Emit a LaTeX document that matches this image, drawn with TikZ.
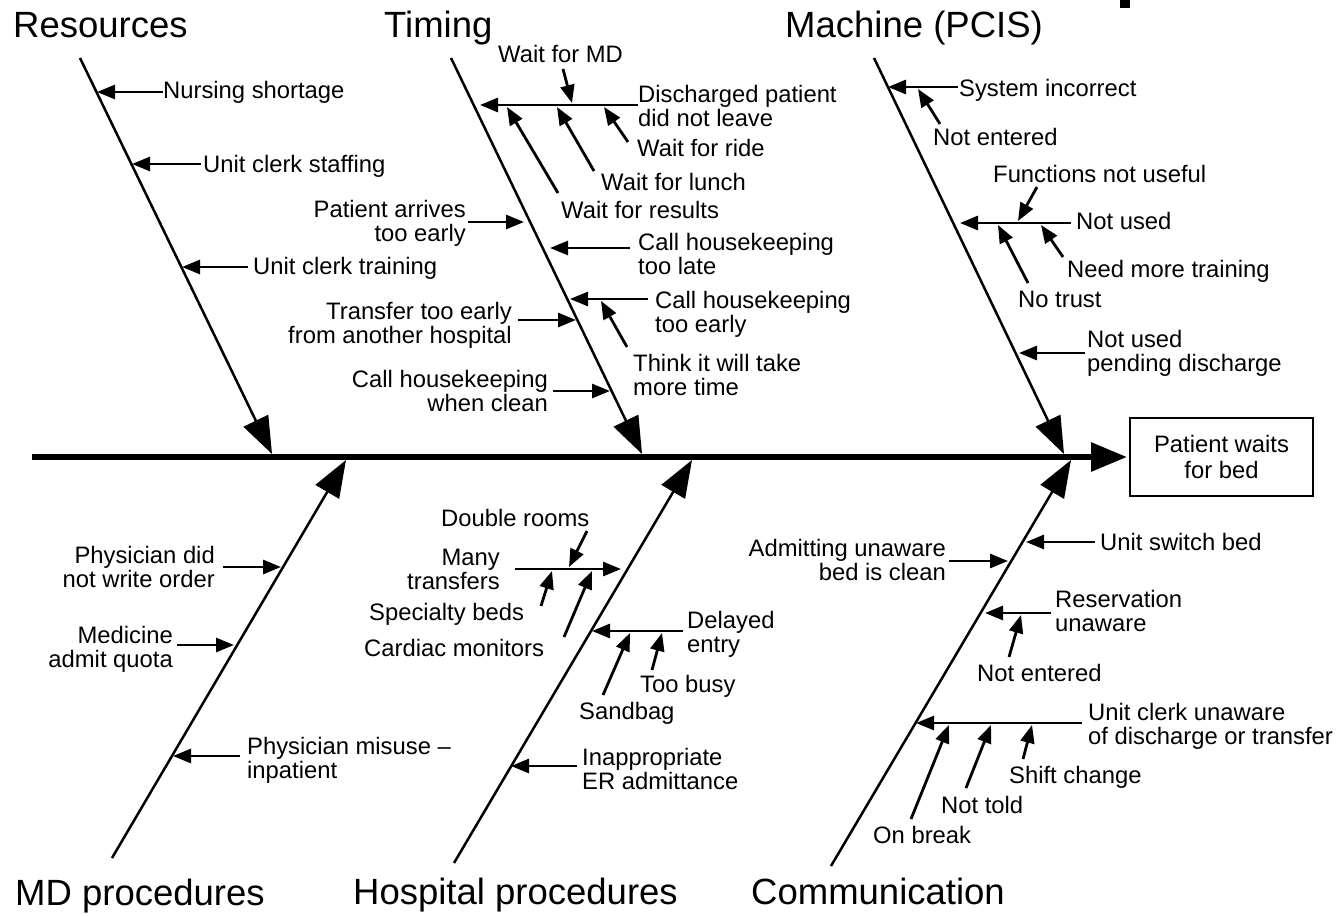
\documentclass[tikz,border=0pt]{standalone}
\usepackage{fontspec}
\setmainfont{Liberation Sans}
\usetikzlibrary{arrows.meta}
\begin{document}
\begin{tikzpicture}[x=1pt,y=-1pt,
  lbl/.style={inner sep=0pt, font=\fontsize{23.8}{24}\selectfont},
  lblL/.style={lbl, align=left, anchor=base west},
  lblR/.style={lbl, align=right, anchor=base east},
  cause/.style={inner sep=0pt, anchor=base west, font=\fontsize{36.5}{40}\selectfont},
  bone/.style={line width=2.5pt, -{Triangle[length=37pt,width=27pt]}},
  twig/.style={line width=2.8pt, -{Triangle[length=18pt,width=14pt]}},
  spine/.style={line width=6pt, -{Triangle[length=36pt,width=28pt]}},
  effectbox/.style={draw, line width=2.5pt, minimum width=183pt, minimum height=78pt,
    inner sep=0pt, align=center, font=\fontsize{23.8}{26}\selectfont}]
\useasboundingbox (0,0) rectangle (1340,915);

% small mark at the top edge
\fill (1120,0) rectangle (1130,8);

% ---------- effect and spine ----------
\node[effectbox] (effect) at (1221.5,457) {Patient waits\\for bed};
\coordinate (spine-tail) at (32,457);
\coordinate (spine-tip) at (1127,457);
\draw[spine] (spine-tail) -- (spine-tip);

% ---------- category titles ----------
\node[cause] (resources) at (13,38) {Resources};
\node[cause] (timing) at (384,38) {Timing};
\node[cause] (machine) at (785,38) {Machine (PCIS)};
\node[cause] (mdproc) at (15,905) {MD procedures};
\node[cause] (hospproc) at (353,904) {Hospital procedures};
\node[cause] (communication) at (751,904) {Communication};

% ---------- main bones ----------
\coordinate (res-top) at (80,58);    \coordinate (res-tip) at (272,454);
\coordinate (tim-top) at (451,58);   \coordinate (tim-tip) at (642,454);
\coordinate (mac-top) at (874,58);   \coordinate (mac-tip) at (1064,454);
\coordinate (md-bot) at (112,858);   \coordinate (md-tip) at (346,460);
\coordinate (hos-bot) at (454,863);  \coordinate (hos-tip) at (692,460);
\coordinate (com-bot) at (831,866);  \coordinate (com-tip) at (1071,460);
\draw[bone] (res-top) -- (res-tip);
\draw[bone] (tim-top) -- (tim-tip);
\draw[bone] (mac-top) -- (mac-tip);
\draw[bone] (md-bot) -- (md-tip);
\draw[bone] (hos-bot) -- (hos-tip);
\draw[bone] (com-bot) -- (com-tip);

% ---------- Resources ----------
\node[lblL] (rNurs) at (163,99) {Nursing shortage};
\node[lblL] (rStaff) at (203,172) {Unit clerk staffing};
\node[lblL] (rTrain) at (253,274) {Unit clerk training};
\coordinate (rNurs-a) at (163,92);  \coordinate (rNurs-b) at (97,92);
\coordinate (rStaff-a) at (201,164); \coordinate (rStaff-b) at (132,164);
\coordinate (rTrain-a) at (248,267); \coordinate (rTrain-b) at (182,267);
\draw[twig] (rNurs-a) -- (rNurs-b);
\draw[twig] (rStaff-a) -- (rStaff-b);
\draw[twig] (rTrain-a) -- (rTrain-b);

% ---------- Timing (two-line labels are placed by their last baseline) ----------
\node[lblL] (tMD) at (498,63) {Wait for MD};
\node[lblL] (tDis) at (638,126) {Discharged patient\\did not leave};
\node[lblL] (tRide) at (637,157) {Wait for ride};
\node[lblL] (tLunch) at (601,190) {Wait for lunch};
\node[lblL] (tRes) at (561,218) {Wait for results};
\node[lblR] (tArr) at (466,241) {Patient arrives\\too early};
\node[lblL] (tLate) at (638,274) {Call housekeeping\\too late};
\node[lblL] (tEarly) at (655,332) {Call housekeeping\\too early};
\node[lblL] (tThink) at (633,395) {Think it will take\\more time};
\node[lblR] (tTrans) at (512,343) {Transfer too early\\from another hospital};
\node[lblR] (tWhen) at (548,411) {Call housekeeping\\when clean};

\coordinate (tDis-a) at (638,105);  \coordinate (tDis-b) at (480,105);
\coordinate (tMD-a) at (563,69);    \coordinate (tMD-b) at (572,103);
\coordinate (tRide-a) at (628,142); \coordinate (tRide-b) at (604,107);
\coordinate (tLunch-a) at (594,171); \coordinate (tLunch-b) at (557,107);
\coordinate (tRes-a) at (558,193);  \coordinate (tRes-b) at (507,107);
\coordinate (tArr-a) at (468,222);  \coordinate (tArr-b) at (524,222);
\coordinate (tLate-a) at (630,248); \coordinate (tLate-b) at (550,248);
\coordinate (tEarly-a) at (648,299); \coordinate (tEarly-b) at (570,299);
\coordinate (tThink-a) at (627,347); \coordinate (tThink-b) at (601,301);
\coordinate (tTrans-a) at (518,320); \coordinate (tTrans-b) at (576,320);
\coordinate (tWhen-a) at (553,391); \coordinate (tWhen-b) at (610,391);
\draw[twig] (tDis-a) -- (tDis-b);
\draw[twig] (tMD-a) -- (tMD-b);
\draw[twig] (tRide-a) -- (tRide-b);
\draw[twig] (tLunch-a) -- (tLunch-b);
\draw[twig] (tRes-a) -- (tRes-b);
\draw[twig] (tArr-a) -- (tArr-b);
\draw[twig] (tLate-a) -- (tLate-b);
\draw[twig] (tEarly-a) -- (tEarly-b);
\draw[twig] (tThink-a) -- (tThink-b);
\draw[twig] (tTrans-a) -- (tTrans-b);
\draw[twig] (tWhen-a) -- (tWhen-b);

% ---------- Machine (PCIS) ----------
\node[lblL] (mSys) at (959,97) {System incorrect};
\node[lblL] (mNE) at (933,145) {Not entered};
\node[lblL] (mFunc) at (993,182) {Functions not useful};
\node[lblL] (mNU) at (1076,229) {Not used};
\node[lblL] (mNeed) at (1067,277) {Need more training};
\node[lblL] (mTrust) at (1018,307) {No trust};
\node[lblL] (mPend) at (1087,371) {Not used\\pending discharge};

\coordinate (mSys-a) at (958,87);   \coordinate (mSys-b) at (888,87);
\coordinate (mNE-a) at (940,124);   \coordinate (mNE-b) at (918,89);
\coordinate (mNU-a) at (1071,223);  \coordinate (mNU-b) at (960,223);
\coordinate (mFunc-a) at (1037,187); \coordinate (mFunc-b) at (1018,221);
\coordinate (mNeed-a) at (1063,257); \coordinate (mNeed-b) at (1041,225);
\coordinate (mTrust-a) at (1028,283); \coordinate (mTrust-b) at (998,225);
\coordinate (mPend-a) at (1085,353); \coordinate (mPend-b) at (1019,353);
\draw[twig] (mSys-a) -- (mSys-b);
\draw[twig] (mNE-a) -- (mNE-b);
\draw[twig] (mNU-a) -- (mNU-b);
\draw[twig] (mFunc-a) -- (mFunc-b);
\draw[twig] (mNeed-a) -- (mNeed-b);
\draw[twig] (mTrust-a) -- (mTrust-b);
\draw[twig] (mPend-a) -- (mPend-b);

% ---------- MD procedures ----------
\node[lblR] (dPhys) at (215,587) {Physician did\\not write order};
\node[lblR] (dMed) at (173,667) {Medicine\\admit quota};
\node[lblL] (dMis) at (247,778) {Physician misuse --\\inpatient};
\coordinate (dPhys-a) at (223,567); \coordinate (dPhys-b) at (281,567);
\coordinate (dMed-a) at (177,645);  \coordinate (dMed-b) at (234,645);
\coordinate (dMis-a) at (240,756);  \coordinate (dMis-b) at (173,756);
\draw[twig] (dPhys-a) -- (dPhys-b);
\draw[twig] (dMed-a) -- (dMed-b);
\draw[twig] (dMis-a) -- (dMis-b);

% ---------- Hospital procedures ----------
\node[lblL] (hDbl) at (441,526) {Double rooms};
\node[lblR] (hMany) at (500,589) {Many\\transfers};
\node[lblL] (hSpec) at (369,620) {Specialty beds};
\node[lblL] (hCard) at (364,656) {Cardiac monitors};
\node[lblL] (hDel) at (687,652) {Delayed\\entry};
\node[lblL] (hSand) at (579,719) {Sandbag};
\node[lblL] (hBusy) at (640,692) {Too busy};
\node[lblL] (hInap) at (582,789) {Inappropriate\\ER admittance};

\coordinate (hMany-a) at (515,569); \coordinate (hMany-b) at (621,569);
\coordinate (hDbl-a) at (587,531);  \coordinate (hDbl-b) at (569,567);
\coordinate (hSpec-a) at (541,606); \coordinate (hSpec-b) at (552,571);
\coordinate (hCard-a) at (564,637); \coordinate (hCard-b) at (592,571);
\coordinate (hDel-a) at (683,631);  \coordinate (hDel-b) at (592,631);
\coordinate (hSand-a) at (603,695); \coordinate (hSand-b) at (630,633);
\coordinate (hBusy-a) at (652,670); \coordinate (hBusy-b) at (662,633);
\coordinate (hInap-a) at (577,766); \coordinate (hInap-b) at (511,766);
\draw[twig] (hMany-a) -- (hMany-b);
\draw[twig] (hDbl-a) -- (hDbl-b);
\draw[twig] (hSpec-a) -- (hSpec-b);
\draw[twig] (hCard-a) -- (hCard-b);
\draw[twig] (hDel-a) -- (hDel-b);
\draw[twig] (hSand-a) -- (hSand-b);
\draw[twig] (hBusy-a) -- (hBusy-b);
\draw[twig] (hInap-a) -- (hInap-b);

% ---------- Communication ----------
\node[lblL] (cSwitch) at (1100,550) {Unit switch bed};
\node[lblR] (cAdm) at (946,580) {Admitting unaware\\bed is clean};
\node[lblL] (cRes) at (1055,631) {Reservation\\unaware};
\node[lblL] (cNE) at (977,681) {Not entered};
\node[lblL] (cUnit) at (1088,744) {Unit clerk unaware\\of discharge or transfer};
\node[lblL] (cShift) at (1009,783) {Shift change};
\node[lblL] (cTold) at (941,813) {Not told};
\node[lblL] (cBreak) at (873,843) {On break};

\coordinate (cSwitch-a) at (1095,542); \coordinate (cSwitch-b) at (1026,542);
\coordinate (cAdm-a) at (949,561);  \coordinate (cAdm-b) at (1008,561);
\coordinate (cRes-a) at (1051,613); \coordinate (cRes-b) at (985,613);
\coordinate (cNE-a) at (1009,657);  \coordinate (cNE-b) at (1021,615);
\coordinate (cUnit-a) at (1082,723); \coordinate (cUnit-b) at (916,723);
\coordinate (cShift-a) at (1023,759); \coordinate (cShift-b) at (1032,725);
\coordinate (cTold-a) at (966,788); \coordinate (cTold-b) at (991,725);
\coordinate (cBreak-a) at (911,819); \coordinate (cBreak-b) at (949,725);
\draw[twig] (cSwitch-a) -- (cSwitch-b);
\draw[twig] (cAdm-a) -- (cAdm-b);
\draw[twig] (cRes-a) -- (cRes-b);
\draw[twig] (cNE-a) -- (cNE-b);
\draw[twig] (cUnit-a) -- (cUnit-b);
\draw[twig] (cShift-a) -- (cShift-b);
\draw[twig] (cTold-a) -- (cTold-b);
\draw[twig] (cBreak-a) -- (cBreak-b);
\end{tikzpicture}
\end{document}
